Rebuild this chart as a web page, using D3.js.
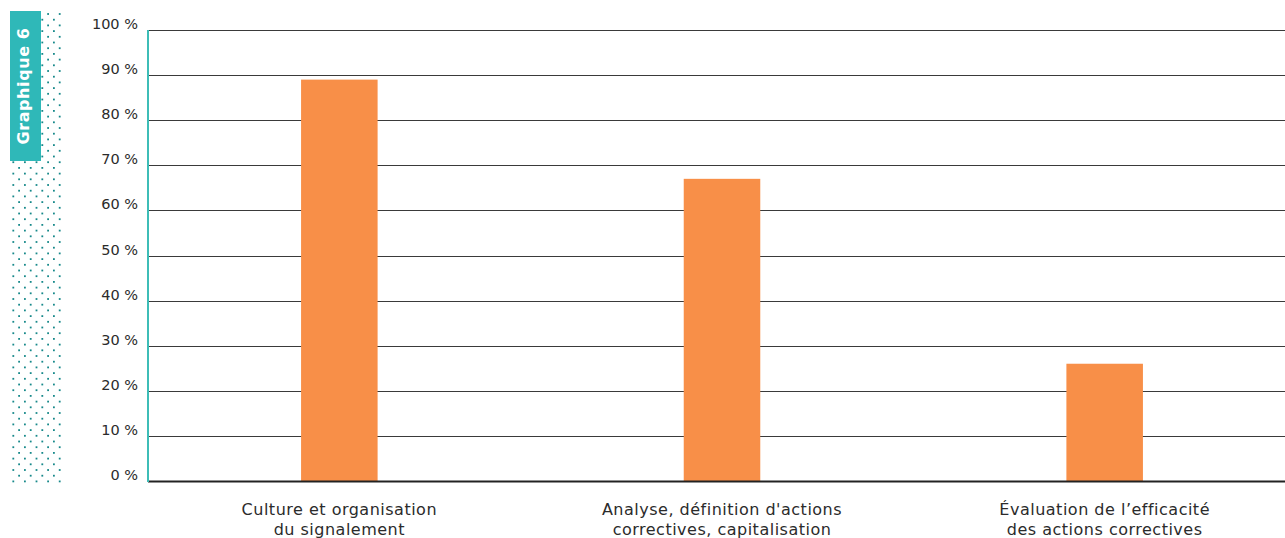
<!DOCTYPE html>
<html lang="fr">
<head>
<meta charset="utf-8">
<script src="https://cdn.jsdelivr.net/npm/d3@7"></script>
<style>
  html, body { margin: 0; padding: 0; background: #fff; }
  svg { display: block; font-family: "DejaVu Sans", "Noto Sans", sans-serif; }
</style>
</head>
<body>
<svg id="chart" width="1285" height="538"></svg>
<script>
// Part des réponses par thème
const categories = [
  ["Culture et organisation", "du signalement"],
  ["Analyse, définition d'actions", "correctives, capitalisation"],
  ["Évaluation de l’efficacité", "des actions correctives"]
];
const values = [89, 67, 26];
const tickValues = [0, 10, 20, 30, 40, 50, 60, 70, 80, 90, 100];
const tickLabels = tickValues.map(v => v + " %");
const badgeTitle = "Graphique 6";

const svg = d3.select("#chart");
const W = 1285, H = 538;
const margin = { left: 148, top: 30, bottom: 57 };
const plotRight = 1296;

const x = d3.scaleBand()
  .domain(d3.range(categories.length))
  .range([margin.left, plotRight])
  .paddingInner(0.8)
  .paddingOuter(0.4);

const y = d3.scaleLinear()
  .domain([0, 100])
  .range([H - margin.bottom, margin.top]);

// Dotted side band
const dots = svg.append("g").attr("fill", "#17898a");
const dx = 11.6, dy = 5.7;
for (let r = 0; r < 83; r++) {
  const yy = 14 + r * dy;
  const off = (r % 2 === 0) ? 13.3 : 19.1;
  for (let c = 0; c < 5; c++) {
    const xx = off + c * dx;
    if (xx > 61) continue;
    dots.append("rect")
      .attr("x", xx - 0.9).attr("y", yy - 0.9)
      .attr("width", 1.8).attr("height", 1.8);
  }
}

// Title badge
svg.append("rect")
  .attr("x", 10).attr("y", 11)
  .attr("width", 31).attr("height", 150)
  .attr("fill", "#2fb8b8");
svg.append("text")
  .attr("transform", "translate(29,86) rotate(-90)")
  .attr("text-anchor", "middle")
  .attr("fill", "#fff")
  .attr("font-size", 16)
  .attr("font-weight", 700)
  .attr("letter-spacing", 0.6)
  .text(badgeTitle);

// Gridlines
svg.append("g")
  .selectAll("line")
  .data(tickValues.filter(v => v > 0))
  .join("line")
  .attr("x1", margin.left).attr("x2", W)
  .attr("y1", d => Math.round(y(d)) + 0.5)
  .attr("y2", d => Math.round(y(d)) + 0.5)
  .attr("stroke", "#3a3a3a")
  .attr("stroke-width", 1);

// Y axis labels
const yAxis = d3.axisLeft(y)
  .tickValues(tickValues)
  .tickFormat((d, i) => tickLabels[i])
  .tickSize(0)
  .tickPadding(10);
const gy = svg.append("g")
  .attr("transform", `translate(${margin.left},0)`)
  .call(yAxis);
gy.select(".domain").remove();
gy.selectAll("text")
  .attr("font-family", "'DejaVu Sans', sans-serif")
  .attr("font-size", 14.5)
  .attr("fill", "#2b2b2b")
  .attr("dy", "-0.1em");

// Bars
svg.append("g")
  .selectAll("rect")
  .data(values)
  .join("rect")
  .attr("x", (d, i) => x(i))
  .attr("y", d => y(d))
  .attr("width", x.bandwidth())
  .attr("height", d => y(0) - y(d))
  .attr("fill", "#f88f48");

// Baseline
svg.append("line")
  .attr("x1", margin.left).attr("x2", W)
  .attr("y1", y(0) + 0.5).attr("y2", y(0) + 0.5)
  .attr("stroke", "#222").attr("stroke-width", 2);

// Vertical axis line
svg.append("line")
  .attr("x1", margin.left).attr("x2", margin.left)
  .attr("y1", y(100)).attr("y2", y(0) + 1)
  .attr("stroke", "#3dbdb7").attr("stroke-width", 2);

// Category labels
const labels = svg.append("g")
  .selectAll("text")
  .data(categories)
  .join("text")
  .attr("x", (d, i) => x(i) + x.bandwidth() / 2)
  .attr("y", 515)
  .attr("text-anchor", "middle")
  .attr("font-size", 16)
  .attr("letter-spacing", 0.5)
  .attr("fill", "#2b2b2b");
labels.selectAll("tspan")
  .data(d => d)
  .join("tspan")
  .attr("x", function () { return d3.select(this.parentNode).attr("x"); })
  .attr("dy", (d, i) => i === 0 ? 0 : 20)
  .text(d => d);
</script>
</body>
</html>
